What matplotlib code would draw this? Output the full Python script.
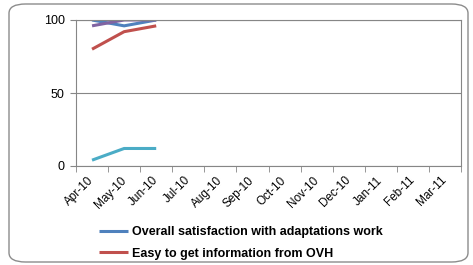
import matplotlib.pyplot as plt
from matplotlib.patches import FancyBboxPatch
import matplotlib.transforms as mtransforms

months = ["Apr-10", "May-10", "Jun-10", "Jul-10", "Aug-10", "Sep-10",
          "Oct-10", "Nov-10", "Dec-10", "Jan-11", "Feb-11", "Mar-11"]
overall = [100, 96, 100]
easy_info = [80, 92, 96]
purple_series = [96, 100, 100]
teal_series = [4, 12, 12]

plt.rcParams['font.family'] = ['Liberation Sans', 'DejaVu Sans']

fig = plt.figure(figsize=(4.73, 2.65), dpi=100)
W, H = 473, 265

# rounded outer frame
frame = FancyBboxPatch((9 / W, 3 / H), 459 / W, 258 / H,
                       boxstyle="round,pad=0,rounding_size=0.035",
                       transform=fig.transFigure, facecolor="white",
                       edgecolor="#8c8c8c", linewidth=1.0, zorder=-1)
fig.patches.append(frame)

ax = fig.add_axes([76 / W, 1 - 166 / H, 385 / W, 146 / H])
ax.set_facecolor("none")

x = range(len(overall))
l1, = ax.plot(x, overall, color="#4F81BD", lw=2.2, solid_capstyle="butt")
l2, = ax.plot(x, easy_info, color="#C0504D", lw=2.2, solid_capstyle="butt")
ax.plot(x, purple_series, color="#8064A2", lw=2.2, solid_capstyle="butt")
ax.plot(range(len(teal_series)), teal_series, color="#4BACC6", lw=2.2,
        solid_capstyle="butt")

ax.set_xlim(-0.5, len(months) - 0.5)
ax.set_ylim(0, 100)
ax.set_yticks([0, 50, 100])
ax.set_xticks(range(len(months)))
ax.set_xticklabels(months, rotation=45, ha="right", va="center",
                   rotation_mode="anchor", fontsize=8.5)
shift = mtransforms.ScaledTranslation(3 / 100, 0, fig.dpi_scale_trans)
for lab in ax.get_xticklabels():
    lab.set_transform(lab.get_transform() + shift)
ax.set_xticks([i - 0.5 for i in range(len(months) + 1)], minor=True)
ax.tick_params(axis="x", which="major", length=0, pad=9)
ax.tick_params(axis="x", which="minor", length=4, color="#868686")
ax.tick_params(axis="y", length=4, color="#868686", labelsize=9, pad=4)
ax.grid(axis="y", color="#868686", lw=0.8)
for s in ax.spines.values():
    s.set_color("#868686")
    s.set_linewidth(0.8)

fig.legend([l1, l2], ["Overall satisfaction with adaptations work",
                      "Easy to get information from OVH"],
           loc="upper left", bbox_to_anchor=(88 / W, 1 - 215 / H),
           frameon=False, handlelength=2.3, handletextpad=0.3,
           labelspacing=0.75, prop={"weight": "bold", "size": 9})

fig.savefig("out.png", dpi=100)
